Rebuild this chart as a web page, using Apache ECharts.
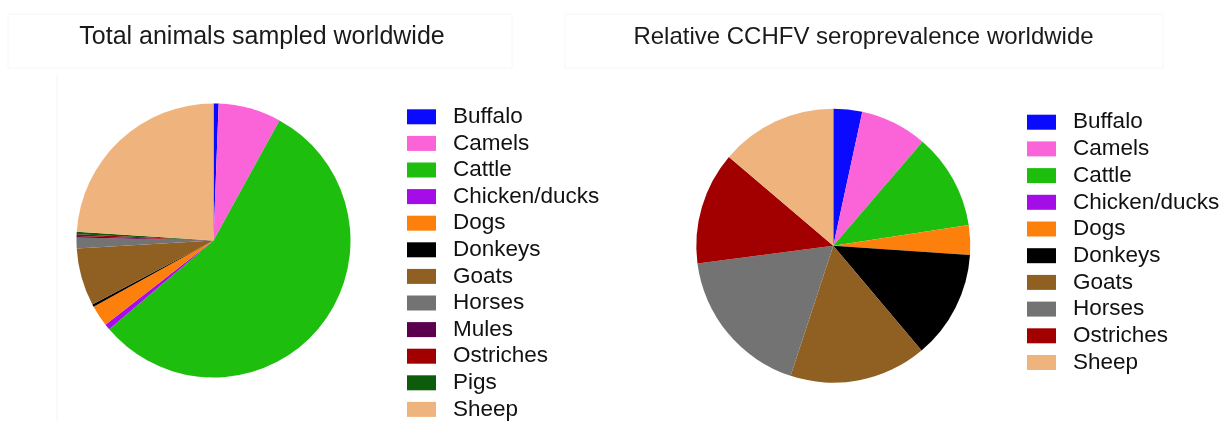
<!DOCTYPE html>
<html>
<head>
<meta charset="utf-8">
<script src="https://cdn.jsdelivr.net/npm/echarts@6/dist/echarts.min.js"></script>
<style>
html,body{margin:0;padding:0;background:#fff;}
#chart{width:1231px;height:421px;}
</style>
</head>
<body>
<div id="chart"></div>
<script>
// Data
var sampledCategories = ['Buffalo','Camels','Cattle','Chicken/ducks','Dogs','Donkeys','Goats','Horses','Mules','Ostriches','Pigs','Sheep'];
var sampledValues = [0.6, 7.4, 55.8, 0.7, 2.5, 0.3, 6.8, 1.3, 0.15, 0.2, 0.3, 24.0];
var seroCategories = ['Buffalo','Camels','Cattle','Chicken/ducks','Dogs','Donkeys','Goats','Horses','Ostriches','Sheep'];
var seroValues = [3.4, 7.9, 11.3, 0, 3.5, 12.8, 16.2, 17.9, 13.3, 13.8];
var titles = ['Total animals sampled worldwide', 'Relative CCHFV seroprevalence worldwide'];

var colorMap = {
  'Buffalo':'#0a0aff','Camels':'#fb63d9','Cattle':'#1ebe0e','Chicken/ducks':'#a40de8',
  'Dogs':'#fd800c','Donkeys':'#000000','Goats':'#905f22','Horses':'#737373',
  'Mules':'#5a004f','Ostriches':'#a20000','Pigs':'#0c5c0c','Sheep':'#efb47e'
};
function build(cats, vals){
  return cats.map(function(c,i){ return {name:c, value:vals[i], itemStyle:{color:colorMap[c]}}; });
}
var legendText = {fontFamily:'Liberation Sans, Arial, sans-serif', fontSize:22.5, color:'#111', lineHeight:22, padding:[0,0,0,12]};
function titleText(size){ return {fontFamily:'Liberation Sans, Arial, sans-serif', fontSize:size, fontWeight:'normal', color:'#1a1a1a'}; }

var chart = echarts.init(document.getElementById('chart'), null, {renderer:'canvas'});
chart.setOption({
  animation:false,
  backgroundColor:'#ffffff',
  graphic:[
    {type:'rect', shape:{x:8,y:14,width:504,height:54}, style:{fill:'none',stroke:'#f6f6f6',lineWidth:1}, silent:true},
    {type:'rect', shape:{x:565,y:14,width:598,height:54}, style:{fill:'none',stroke:'#f6f6f6',lineWidth:1}, silent:true},
    {type:'line', shape:{x1:57,y1:75,x2:57,y2:421}, style:{stroke:'#f4f4f4',lineWidth:1}, silent:true}
  ],
  title:[
    {text:titles[0], left:257, top:20, textAlign:'center', textStyle:titleText(25)},
    {text:titles[1], left:858.5, top:20, textAlign:'center', textStyle:titleText(24)}
  ],
  legend:[
    {data:sampledCategories, orient:'vertical', left:407, top:105.3, height:340, padding:0, itemWidth:29, itemHeight:15, itemGap:3.6, icon:'rect', textStyle:legendText, selectedMode:false},
    {data:seroCategories, orient:'vertical', left:1027, top:110.7, height:300, padding:0, itemWidth:29, itemHeight:15, itemGap:3.7, icon:'rect', textStyle:legendText, selectedMode:false}
  ],
  series:[
    {type:'pie', center:[213.5,240.5], radius:137, startAngle:90, clockwise:true, label:{show:false}, labelLine:{show:false},
     itemStyle:{borderWidth:0}, emphasis:{disabled:true}, data:build(sampledCategories, sampledValues)},
    {type:'pie', center:[833.3,245.7], radius:137, startAngle:90, clockwise:true, label:{show:false}, labelLine:{show:false},
     itemStyle:{borderWidth:0}, emphasis:{disabled:true}, data:build(seroCategories, seroValues)}
  ]
});
</script>
</body>
</html>
